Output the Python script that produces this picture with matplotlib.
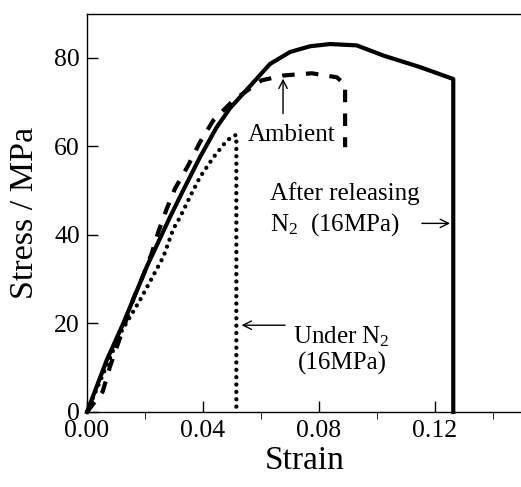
import matplotlib
matplotlib.use("Agg")
import matplotlib.pyplot as plt
from matplotlib.ticker import MultipleLocator

plt.rcParams["font.family"] = ["Liberation Serif", "DejaVu Serif"]
plt.rcParams["mathtext.fontset"] = "custom"
plt.rcParams["mathtext.rm"] = "Liberation Serif"
plt.rcParams["mathtext.it"] = "Liberation Serif:italic"

# after releasing N2 (solid)
strain_after = [0, 0.0068, 0.0125, 0.0206, 0.0286, 0.0332, 0.039, 0.0447, 0.0493, 0.0551,
                0.0631, 0.070, 0.0769, 0.0838, 0.093, 0.1022, 0.1148, 0.1263, 0.1263]
stress_after = [0, 11.7, 20.0, 32.8, 44.0, 50.1, 57.6, 64.3, 68.6, 72.8,
                78.6, 81.3, 82.6, 83.1, 82.8, 80.5, 77.9, 75.2, 0]

# under N2 (dotted)
strain_n2 = [0, 0.0068, 0.0114, 0.0183, 0.0263, 0.0298, 0.0321, 0.0355, 0.039, 0.0437,
             0.0482, 0.0510, 0.0515, 0.0515]
stress_n2 = [0, 10.5, 17.7, 25.3, 35.0, 41.4, 44.0, 48.6, 53.1, 57.6,
             61.3, 62.5, 62.5, 0]

# ambient (dashed)
strain_amb = [0, 0.0054, 0.0079, 0.0137, 0.016, 0.0194, 0.0223, 0.0246, 0.0275, 0.0303,
              0.0349, 0.039, 0.0436, 0.0505, 0.0602, 0.0677, 0.0775, 0.0861, 0.089, 0.089]
stress_amb = [0, 4.6, 10.2, 21.1, 25.6, 30.9, 35.8, 40.7, 45.9, 50.4,
              55.7, 61.0, 65.9, 70.4, 74.9, 76.0, 76.5, 75.6, 74.0, 59.8]

fig = plt.figure(figsize=(5.21, 4.87), dpi=100)
ax = fig.add_axes([87 / 521, 75 / 487, 435 / 521, 398.5 / 487])

ax.plot(strain_after, stress_after, color="k", lw=3, solid_joinstyle="round", clip_on=False)
ax.plot(strain_n2, stress_n2, color="k", lw=3.1, linestyle=(0, (0.01, 1.7)),
        dash_capstyle="round", clip_on=False)
ax.plot(strain_amb, stress_amb, color="k", lw=3, linestyle=(0, (3, 2.7)), clip_on=False)

ax.set_xlim(0, 0.15)
ax.set_ylim(0, 90)
ax.xaxis.set_minor_locator(MultipleLocator(0.02))
ax.yaxis.set_major_locator(MultipleLocator(20))
ax.set_xticks([0, 0.04, 0.08, 0.12])
ax.set_xticklabels(["0.00", "0.04", "0.08", "0.12"])
ax.tick_params(direction="in", labelsize=18.5, width=1)
ax.tick_params(axis="x", which="major", length=8, pad=6)
ax.tick_params(axis="x", which="minor", length=5)
ax.tick_params(axis="y", which="major", length=8, pad=5)
for s in ax.spines.values():
    s.set_linewidth(1)

ax.set_xlabel("Strain", fontsize=24, labelpad=2)
ax.set_ylabel("Stress / MPa", fontsize=24.5, labelpad=10)

arrow = dict(arrowstyle="->,head_length=0.6,head_width=0.3", lw=1, color="k",
             shrinkA=0, shrinkB=0)
ax.annotate("", xy=(0.0676, 75.3), xytext=(0.0676, 67.4), arrowprops=arrow)
ax.text(0.0555, 61.3, "Ambient", fontsize=18, va="baseline")

ax.text(0.0631, 47.8, "After releasing", fontsize=18, va="baseline")
ax.text(0.0631, 41.0, r"N$_\mathrm{2}$  (16MPa)", fontsize=18, va="baseline")
ax.annotate("", xy=(0.1252, 42.6), xytext=(0.1155, 42.6), arrowprops=arrow)

ax.annotate("", xy=(0.0533, 19.6), xytext=(0.0683, 19.6), arrowprops=arrow)
ax.text(0.0711, 15.6, r"Under N$_\mathrm{2}$", fontsize=18, va="baseline")
ax.text(0.0727, 9.5, "(16MPa)", fontsize=18, va="baseline")

fig.savefig("out.png", dpi=100)
